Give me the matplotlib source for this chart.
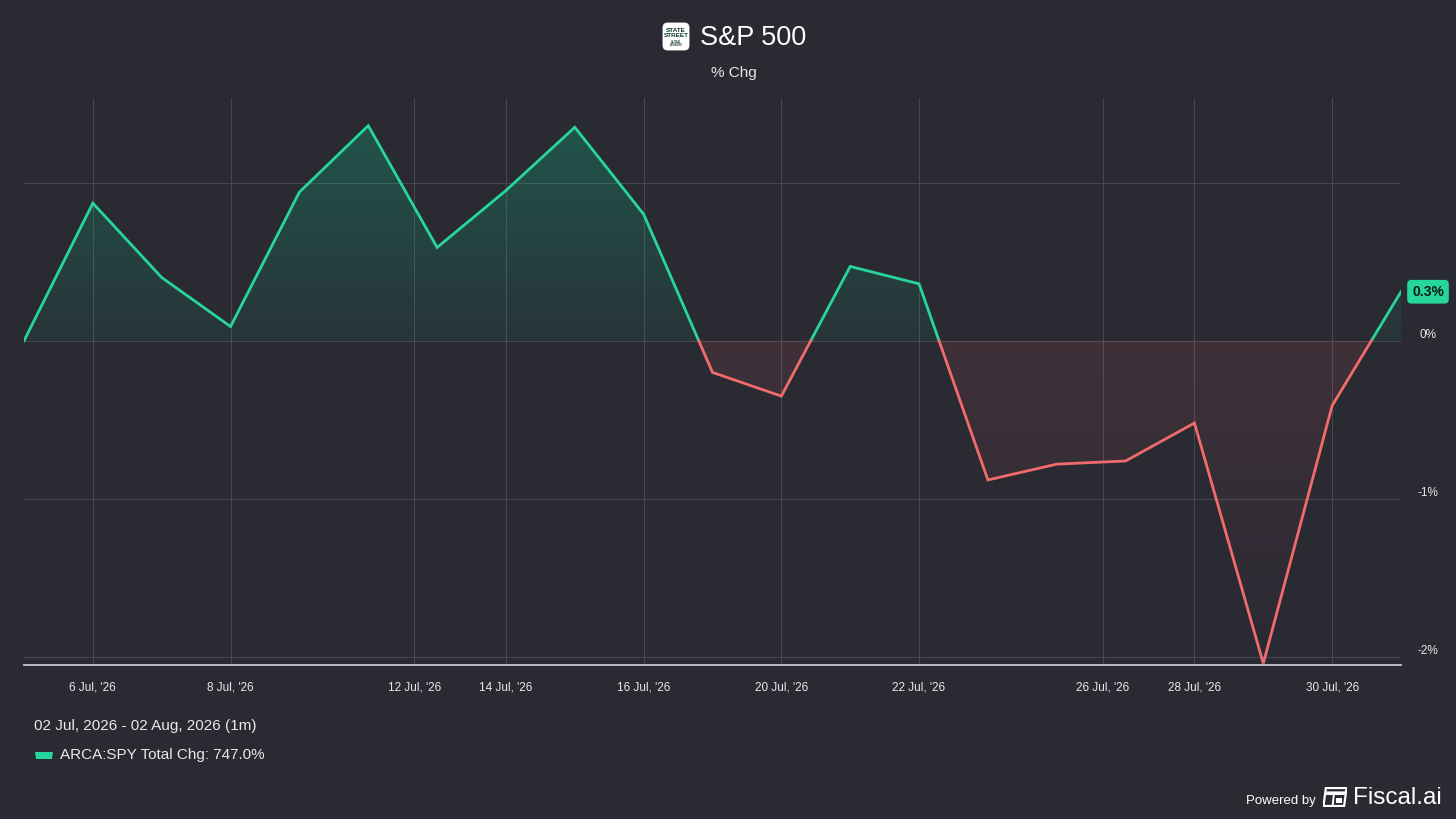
import numpy as np
import matplotlib.pyplot as plt
from matplotlib.path import Path
from matplotlib.patches import FancyBboxPatch, Polygon, Rectangle
import matplotlib.transforms as mtransforms

plt.rcParams['font.family'] = ['Liberation Sans', 'DejaVu Sans']

# daily % change of SPY, one value per session
pct_chg = [0.0, 0.87, 0.40, 0.09, 0.94, 1.36, 0.59, 0.95, 1.35, 0.80,
           -0.20, -0.35, 0.47, 0.36, -0.88, -0.78, -0.76, -0.52, -2.04, -0.41, 0.31]
tick_labels = ["6 Jul, '26", "8 Jul, '26", "12 Jul, '26", "14 Jul, '26", "16 Jul, '26",
               "20 Jul, '26", "22 Jul, '26", "26 Jul, '26", "28 Jul, '26", "30 Jul, '26"]
tick_idx = [1, 3, 5.67, 7, 9, 11, 13, 15.67, 17, 19]
y_grid = [1, 0, -1, -2]
y_labels = ["0%", "-1%", "-2%"]
last_label = "0.3%"
period = "02 Jul, 2026 - 02 Aug, 2026 (1m)"
legend_txt = "ARCA:SPY Total Chg: 747.0%"

BG = '#2a2a33'
GREEN = '#26d69b'
RED = '#f26b6b'
GRID = '#484852'
W, H = 1456, 819

fig = plt.figure(figsize=(W / 100, H / 100), dpi=100, facecolor=BG)
ax = fig.add_axes([24 / W, 1 - 665 / H, (1401 - 24) / W, (665 - 98) / H])
ax.set_facecolor(BG)

x = np.arange(len(pct_chg), dtype=float)
y = np.array(pct_chg)

# add zero crossings so the colours split cleanly
xs, ys = [x[0]], [y[0]]
for i in range(1, len(x)):
    if y[i - 1] * y[i] < 0:
        xs.append(x[i - 1] + y[i - 1] / (y[i - 1] - y[i]))
        ys.append(0.0)
    xs.append(x[i])
    ys.append(y[i])
xs, ys = np.array(xs), np.array(ys)

ax.set_xlim(0, len(pct_chg) - 1)
ax.set_ylim(-2.05, 1.535)


def grad_fill(yvals, rgb, a_far, a_zero, far):
    verts = list(zip(xs, yvals)) + [(xs[-1], 0), (xs[0], 0)]
    path = Path(verts, closed=True)
    n = 200
    alpha = np.linspace(a_zero, a_far, n)
    if far < 0:
        alpha = alpha[::-1]
        ext = [xs[0], xs[-1], far, 0]
    else:
        ext = [xs[0], xs[-1], 0, far]
    img = np.zeros((n, 2, 4))
    img[..., :3] = rgb
    img[..., 3] = alpha[:, None]
    im = ax.imshow(img, extent=ext, origin='lower', aspect='auto', zorder=1,
                   interpolation='bilinear')
    im.set_clip_path(path, ax.transData)


grad_fill(np.maximum(ys, 0), (0.06, 0.67, 0.49), 0.33, 0.08, ys.max())
grad_fill(np.minimum(ys, 0), (0.95, 0.42, 0.42), 0.0, 0.11, ys.min())

ax.plot(xs, np.where(ys >= 0, ys, np.nan), color=GREEN, lw=2, zorder=3,
        solid_joinstyle='miter')
ax.plot(xs, np.where(ys <= 0, ys, np.nan), color=RED, lw=2, zorder=3,
        solid_joinstyle='miter')

ax.set_xticks(tick_idx)
ax.set_xticklabels(tick_labels)
ax.set_yticks(y_grid)
ax.set_yticklabels([])
ax.grid(True, color=GRID, lw=0.8, zorder=0)
ax.set_axisbelow(True)
ax.tick_params(axis='x', length=0, pad=12, colors='#e8e8ee', labelsize=8.5)
ax.tick_params(axis='y', length=0)
for s in ['top', 'left', 'right']:
    ax.spines[s].set_visible(False)
ax.spines['bottom'].set_color('#c8c8d0')
ax.spines['bottom'].set_linewidth(1.3)

# right-hand percent labels
tr = mtransforms.blended_transform_factory(ax.transAxes, ax.transData)
off = mtransforms.ScaledTranslation(0, 6 / 100, fig.dpi_scale_trans)
for v, lab in zip(y_grid[1:], y_labels):
    ax.text(1 + 27 / 1377, v, lab, transform=tr + off, ha='center', va='center',
            color='#e8e8ee', fontsize=8.5, clip_on=False)

ax.annotate(last_label, xy=(x[-1], y[-1]), xytext=(27, 0), textcoords='offset pixels',
            ha='center', va='center', fontsize=10, fontweight='bold', color='#0f1a16',
            bbox=dict(boxstyle='round,pad=0.35,rounding_size=0.3', fc=GREEN, ec='none'),
            annotation_clip=False)

# title with logo
fig.text(700 / W, 1 - 38 / H, "S&P 500", ha='left', va='center', color='white', fontsize=19.5)
fig.text(734 / W, 1 - 73 / H, "% Chg", ha='center', va='center', color='#e8e8ee', fontsize=11)
lax = fig.add_axes([662 / W, 1 - 51 / H, 28 / W, 29 / H])
lax.set_xlim(0, 1)
lax.set_ylim(0, 1)
lax.axis('off')
lax.add_patch(FancyBboxPatch((0.02, 0.02), 0.96, 0.96, boxstyle='round,pad=0,rounding_size=0.18',
                             fc='white', ec='none'))
lax.text(0.5, 0.62, "STATE\nSTREET", ha='center', va='center', fontsize=4.6, fontweight='bold',
         color='#0d3b2a', linespacing=0.85)
lax.text(0.5, 0.26, "GLOBAL\nADVISORS", ha='center', va='center', fontsize=1.8, fontweight='bold',
         color='#0d3b2a', linespacing=0.9)

# footer
fig.text(34 / W, 1 - 726 / H, period, ha='left', va='center', color='#e8e8ee', fontsize=11)
fig.add_artist(Polygon([[35 / W, 1 - 752 / H], [53 / W, 1 - 752 / H], [52 / W, 1 - 759 / H],
                        [36 / W, 1 - 759 / H]], closed=True, transform=fig.transFigure,
                       fc=GREEN, ec='none'))
fig.text(60 / W, 1 - 755 / H, legend_txt, ha='left', va='center', color='#e8e8ee', fontsize=11)

fig.text(1246 / W, 1 - 801 / H, "Powered by", ha='left', va='center', color='white', fontsize=9.5)
fig.text(1353 / W, 1 - 798 / H, "Fiscal.ai", ha='left', va='center', color='white', fontsize=17.5)
iax = fig.add_axes([1323 / W, 1 - 807 / H, 24 / W, 20 / H])
iax.set_xlim(0, 1)
iax.set_ylim(0, 1)
iax.axis('off')
iax.add_patch(Polygon([[0.12, 0.95], [0.98, 0.95], [0.88, 0.05], [0.02, 0.05]], closed=True,
                      fc='none', ec='white', lw=1.6))
iax.add_patch(Polygon([[0.14, 0.78], [0.93, 0.78], [0.9, 0.6], [0.12, 0.6]], closed=True,
                      fc='white', ec='none'))
iax.plot([0.45, 0.4], [0.6, 0.05], color='white', lw=1.4)
iax.add_patch(Rectangle((0.55, 0.2), 0.25, 0.25, fc='white', ec='none'))

fig.savefig('out.png', dpi=100, facecolor=BG)
